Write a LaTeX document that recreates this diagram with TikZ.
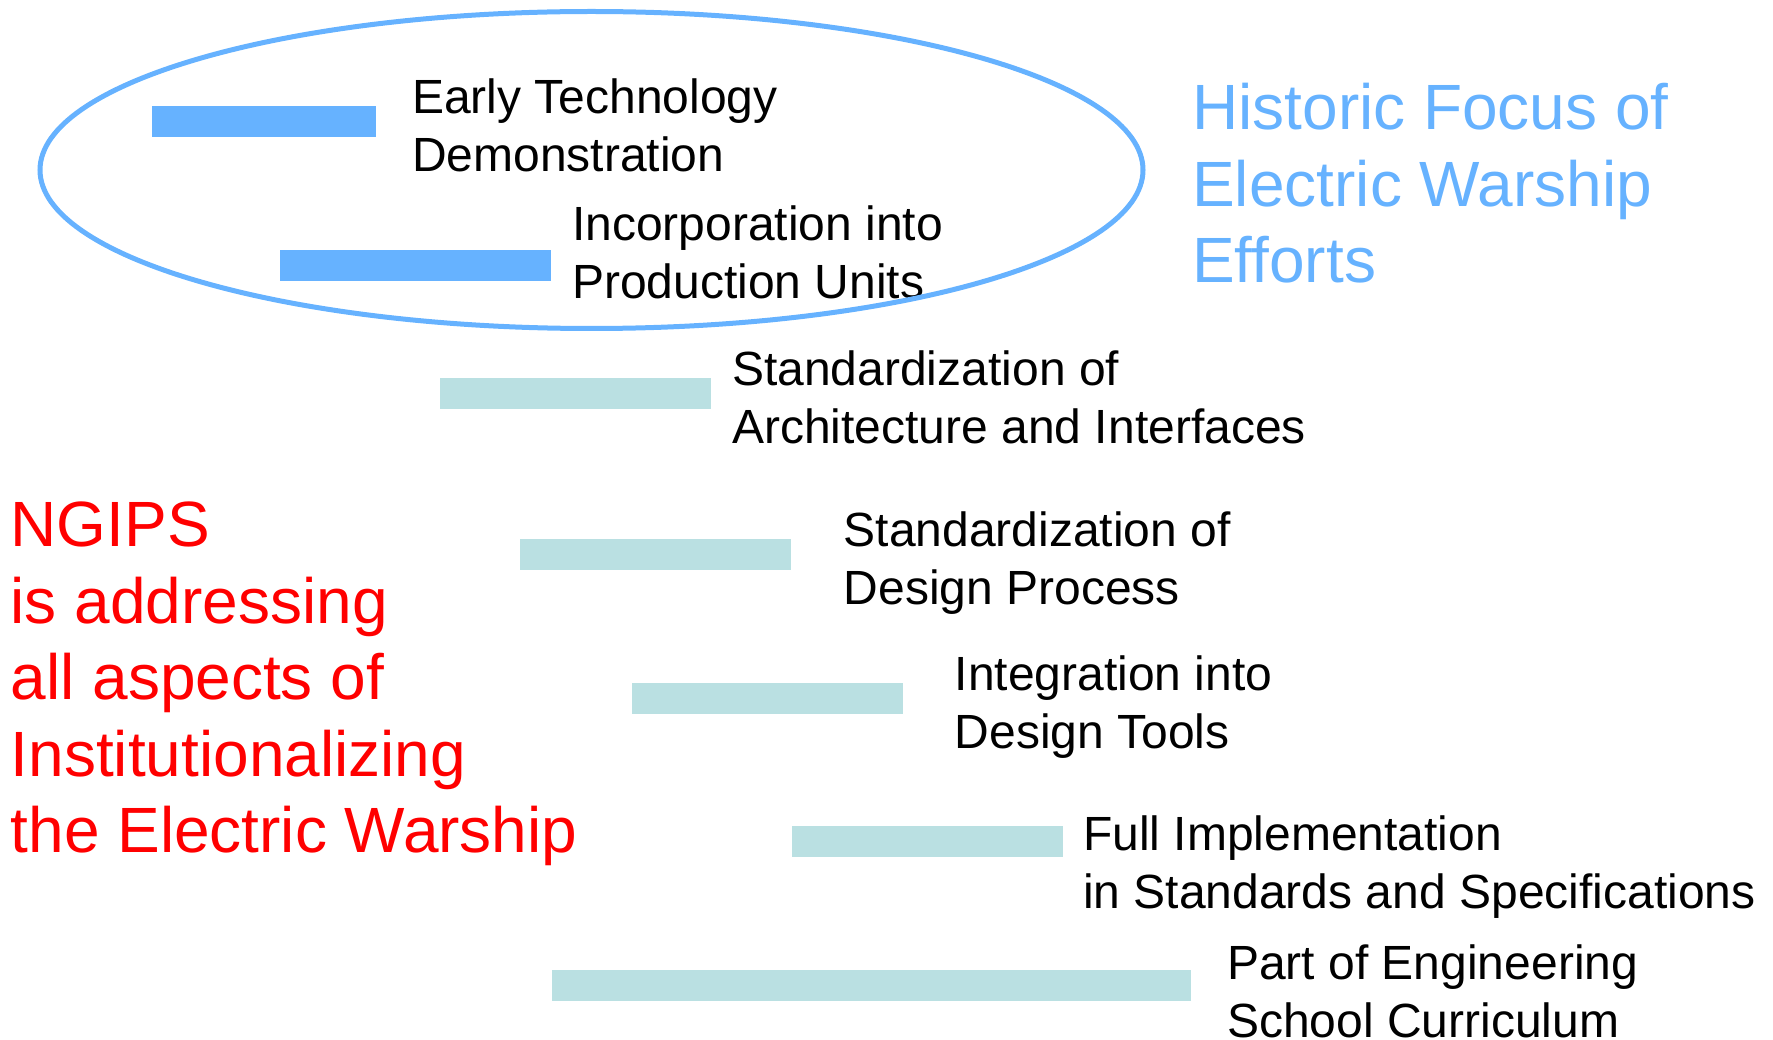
\documentclass[tikz,border=0pt]{standalone}
\usepackage{fontspec}
\setmainfont{Liberation Sans}
\definecolor{histblue}{HTML}{66B2FF}
\definecolor{stepteal}{HTML}{BAE0E2}
\definecolor{ngipsred}{HTML}{FF0000}
\begin{document}
\begin{tikzpicture}[x=1pt,y=-1pt,
  histbar/.style={fill=histblue,draw=none},
  stepbar/.style={fill=stepteal,draw=none},
  % labels are placed at the baseline of their last line
  steplabel/.style={anchor=base west,inner sep=0pt,align=left,
    font=\fontsize{48}{58}\selectfont,text=black},
  biglabel/.style={anchor=base west,inner sep=0pt,align=left,
    font=\fontsize{64}{76.5}\selectfont}]
\useasboundingbox (0,0) rectangle (1773,1040);

% historic focus: the two early steps inside the ellipse
\path[histbar] (152,106) rectangle (376,137);
\node[steplabel] (early) at (412,172) {Early Technology\\Demonstration};
\path[histbar] (280,250) rectangle (551,281);
\node[steplabel] (incorp) at (572,299) {Incorporation into\\Production Units};
\draw[histblue,line width=5pt] (591.5,170) ellipse [x radius=551.5,y radius=158.5];

% institutionalizing steps
\path[stepbar] (440,378) rectangle (711,409);
\node[steplabel] (arch) at (732,443) {Standardization of\\Architecture and Interfaces};
\path[stepbar] (520,539) rectangle (791,570);
\node[steplabel] (design) at (843.5,604) {Standardization of\\Design Process};
\path[stepbar] (632,683) rectangle (903,714);
\node[steplabel] (tools) at (954.5,748) {Integration into\\Design Tools};
\path[stepbar] (792,826) rectangle (1063,857);
\node[steplabel] (impl) at (1083,908) {Full Implementation\\in Standards and Specifications};
\path[stepbar] (552,970) rectangle (1191,1001);
\node[steplabel] (school) at (1227,1037) {Part of Engineering\\School Curriculum};

% side captions
\node[biglabel,text=histblue] (historic) at (1192,283)
  {Historic Focus of\\Electric Warship\\Efforts};
\node[biglabel,text=ngipsred] (ngips) at (10.5,852.7)
  {NGIPS\\is addressing\\all aspects of\\Institutionalizing\\the Electric Warship};
\end{tikzpicture}
\end{document}
